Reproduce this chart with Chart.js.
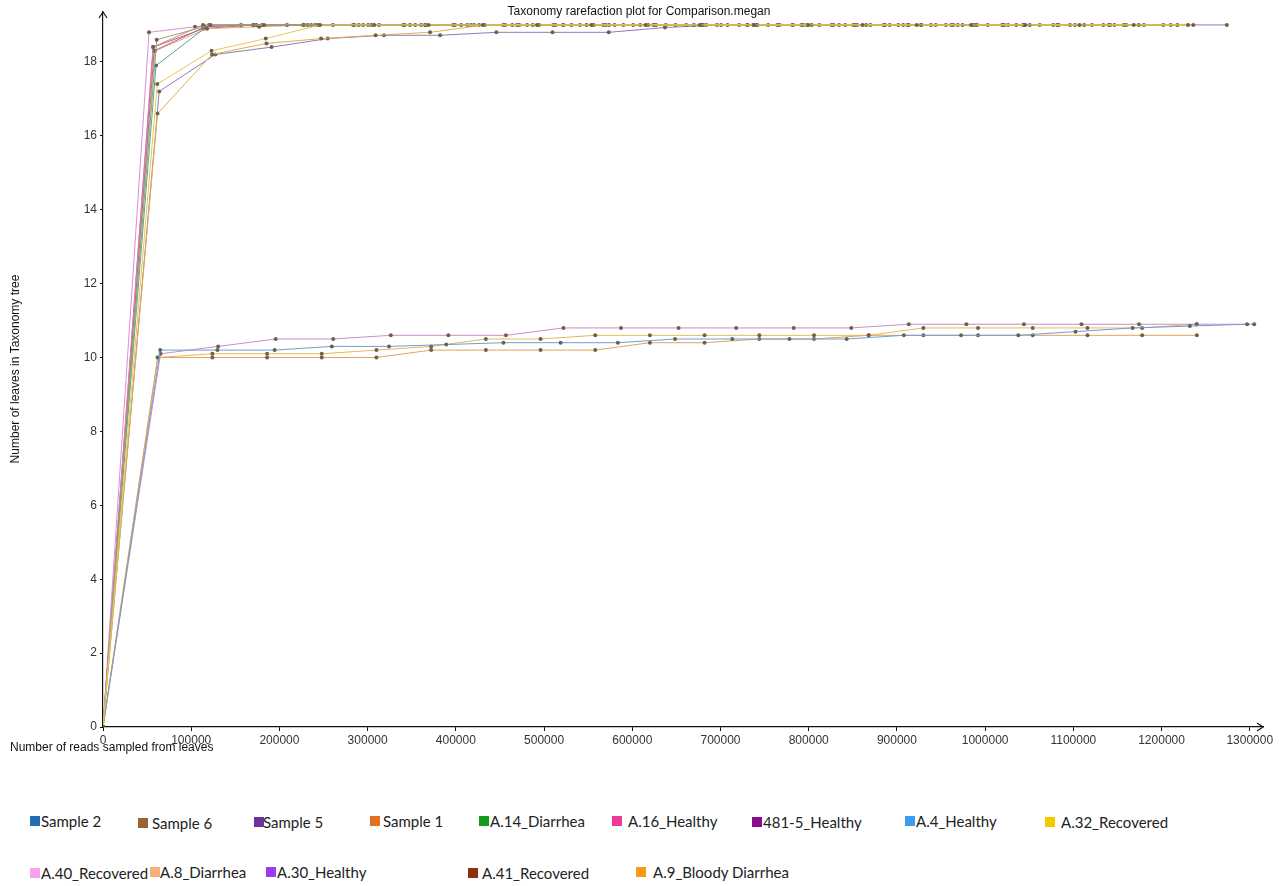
<!DOCTYPE html>
<html>
<head>
<meta charset="utf-8">
<script src="https://cdn.jsdelivr.net/npm/chart.js@4.4.1/dist/chart.umd.min.js"></script>
<style>
  body { margin: 0; background: #fff; width: 1280px; height: 886px; overflow: hidden; position: relative; }
  #wrap { position: absolute; left: 0; top: 0; width: 1280px; height: 790px; }
  .key { position: absolute; font-family: Lato, "Open Sans", sans-serif; font-size: 15px; color: #222; white-space: nowrap; line-height: 18px; }
  .key i { position: absolute; width: 10px; height: 10px; top: 4px; }
</style>
</head>
<body>
<div id="wrap"><canvas id="myChart"></canvas></div>
<div id="legend"></div>
<script>
const titleText = 'Taxonomy rarefaction plot for Comparison.megan';
const xTitle = 'Number of reads sampled from leaves';
const yTitle = 'Number of leaves in Taxonomy tree';

const xTickValues = [0, 100000, 200000, 300000, 400000, 500000, 600000, 700000, 800000, 900000, 1000000, 1100000, 1200000, 1300000];
const yTickValues = [0, 2, 4, 6, 8, 10, 12, 14, 16, 18];

const seriesNames = ['Sample 2', 'Sample 6', 'Sample 5', 'Sample 1', 'A.14_Diarrhea', 'A.16_Healthy', '481-5_Healthy',
    'A.4_Healthy', 'A.32_Recovered', 'A.40_Recovered', 'A.8_Diarrhea', 'A.30_Healthy', 'A.41_Recovered', 'A.9_Bloody Diarrhea'];
const legendColors = ['#1f6fb6', '#9a6336', '#7030a0', '#e2701f', '#169a1a', '#f0389a', '#8c0a8c',
    '#3c9cf0', '#f5c800', '#f5a3ee', '#f7b07c', '#9a3cf0', '#8a3210', '#f59a12'];
const lineColors = ['#6c9fcf', '#e0a45c', '#c78fc6', '#e6b85a', '#80b060', '#e07aa8', '#a070a0',
    '#5f9f9f', '#e8c84a', '#d88fd8', '#e8a878', '#8c7cb8', '#c86060', '#e8ac4c'];

// reads sampled (x) and leaves (y) for each sample
const sample2Reads = [0, 64850, 129700, 194550, 259400, 324250, 389100, 453950, 518800, 583650, 648500, 713350, 778200, 843050, 907900, 972750, 1037600, 1102450, 1167300, 1232150, 1297000];
const sample2Leaves = [0, 10.2, 10.2, 10.2, 10.3, 10.3, 10.35, 10.4, 10.4, 10.4, 10.5, 10.5, 10.5, 10.5, 10.6, 10.6, 10.6, 10.7, 10.8, 10.85, 10.9];
const sample6Reads = [0, 62000, 124000, 186000, 248000, 310000, 372000, 434000, 496000, 558000, 620000, 682000, 744000, 806000, 868000, 930000, 992000, 1054000, 1116000, 1178000, 1240000];
const sample6Leaves = [0, 10.0, 10.0, 10.0, 10.0, 10.0, 10.2, 10.2, 10.2, 10.2, 10.4, 10.4, 10.5, 10.5, 10.6, 10.6, 10.6, 10.6, 10.6, 10.6, 10.6];
const sample5Reads = [0, 65250, 130500, 195750, 261000, 326250, 391500, 456750, 522000, 587250, 652500, 717750, 783000, 848250, 913500, 978750, 1044000, 1109250, 1174500, 1239750, 1305000];
const sample5Leaves = [0, 10.1, 10.3, 10.5, 10.5, 10.6, 10.6, 10.6, 10.8, 10.8, 10.8, 10.8, 10.8, 10.8, 10.9, 10.9, 10.9, 10.9, 10.9, 10.9, 10.9];
const sample1Reads = [0, 62000, 124000, 186000, 248000, 310000, 372000, 434000, 496000, 558000, 620000, 682000, 744000, 806000, 868000, 930000, 992000, 1054000, 1116000, 1178000, 1240000];
const sample1Leaves = [0, 10.0, 10.1, 10.1, 10.1, 10.2, 10.3, 10.5, 10.5, 10.6, 10.6, 10.6, 10.6, 10.6, 10.6, 10.8, 10.8, 10.8, 10.8, 10.8, 10.9];
const a14Reads = [0, 60900, 121800, 182700, 243600, 304500, 365400, 426300, 487200, 548100, 609000, 669900, 730800, 791700, 852600, 913500, 974400, 1035300, 1096200, 1157100, 1218000];
const a14Leaves = [0, 18.6, 19, 19, 19, 19, 19, 19, 19, 19, 19, 19, 19, 19, 19, 19, 19, 19, 19, 19, 19];
const a16Reads = [0, 56700, 113400, 170100, 226800, 283500, 340200, 396900, 453600, 510300, 567000, 623700, 680400, 737100, 793800, 850500, 907200, 963900, 1020600, 1077300, 1134000];
const a16Leaves = [0, 18.4, 19, 19, 19, 19, 19, 19, 19, 19, 19, 19, 19, 19, 19, 19, 19, 19, 19, 19, 19];
const h4815Reads = [0, 58000, 116000, 174000, 232000, 290000, 348000, 406000, 464000, 522000, 580000, 638000, 696000, 754000, 812000, 870000, 928000, 986000, 1044000, 1102000, 1160000];
const h4815Leaves = [0, 18.3, 18.95, 19, 19, 19, 19, 19, 19, 19, 19, 19, 19, 19, 19, 19, 19, 19, 19, 19, 19];
const a4Reads = [0, 60100, 120200, 180300, 240400, 300500, 360600, 420700, 480800, 540900, 601000, 661100, 721200, 781300, 841400, 901500, 961600, 1021700, 1081800, 1141900, 1202000];
const a4Leaves = [0, 17.9, 19, 19, 19, 19, 19, 19, 19, 19, 19, 19, 19, 19, 19, 19, 19, 19, 19, 19, 19];
const a32Reads = [0, 61500, 123000, 184500, 246000, 307500, 369000, 430500, 492000, 553500, 615000, 676500, 738000, 799500, 861000, 922500, 984000, 1045500, 1107000, 1168500, 1230000];
const a32Leaves = [0, 17.4, 18.3, 18.63, 19, 19, 19, 19, 19, 19, 19, 19, 19, 19, 19, 19, 19, 19, 19, 19, 19];
const a40Reads = [0, 52150, 104300, 156450, 208600, 260750, 312900, 365050, 417200, 469350, 521500, 573650, 625800, 677950, 730100, 782250, 834400, 886550, 938700, 990850, 1043000];
const a40Leaves = [0, 18.8, 18.95, 19, 19, 19, 19, 19, 19, 19, 19, 19, 19, 19, 19, 19, 19, 19, 19, 19, 19];
const a8Reads = [0, 59000, 118000, 177000, 236000, 295000, 354000, 413000, 472000, 531000, 590000, 649000, 708000, 767000, 826000, 885000, 944000, 1003000, 1062000, 1121000, 1180000];
const a8Leaves = [0, 18.3, 18.9, 18.95, 19, 19, 19, 19, 19, 19, 19, 19, 19, 19, 19, 19, 19, 19, 19, 19, 19];
const a30Reads = [0, 63700, 127400, 191100, 254800, 318500, 382200, 445900, 509600, 573300, 637000, 700700, 764400, 828100, 891800, 955500, 1019200, 1082900, 1146600, 1210300, 1274000];
const a30Leaves = [0, 17.2, 18.2, 18.4, 18.63, 18.72, 18.72, 18.8, 18.8, 18.8, 18.93, 19, 19, 19, 19, 19, 19, 19, 19, 19, 19];
const a41Reads = [0, 57000, 114000, 171000, 228000, 285000, 342000, 399000, 456000, 513000, 570000, 627000, 684000, 741000, 798000, 855000, 912000, 969000, 1026000, 1083000, 1140000];
const a41Leaves = [0, 18.4, 18.9, 19, 19, 19, 19, 19, 19, 19, 19, 19, 19, 19, 19, 19, 19, 19, 19, 19, 19];
const a9Reads = [0, 61800, 123600, 185400, 247200, 309000, 370800, 432600, 494400, 556200, 618000, 679800, 741600, 803400, 865200, 927000, 988800, 1050600, 1112400, 1174200, 1236000];
const a9Leaves = [0, 16.6, 18.2, 18.5, 18.63, 18.72, 18.8, 19, 19, 19, 19, 19, 19, 19, 19, 19, 19, 19, 19, 19, 19];

const allReads = [sample2Reads, sample6Reads, sample5Reads, sample1Reads, a14Reads, a16Reads, h4815Reads,
    a4Reads, a32Reads, a40Reads, a8Reads, a30Reads, a41Reads, a9Reads];
const allLeaves = [sample2Leaves, sample6Leaves, sample5Leaves, sample1Leaves, a14Leaves, a16Leaves, h4815Leaves,
    a4Leaves, a32Leaves, a40Leaves, a8Leaves, a30Leaves, a41Leaves, a9Leaves];

// legend layout: square left, text left, row top
const legendSpots = [[30, 41, 812], [138, 152, 814], [254, 263, 813], [370, 383, 812], [479, 490, 812],
    [612, 628, 812], [752, 763, 813], [905, 916, 812], [1045, 1061, 813],
    [30, 41, 864], [150, 160, 863], [266, 277, 863], [468, 482, 864], [636, 653, 863]];

function buildLegend() {
    const box = document.getElementById('legend');
    seriesNames.forEach((name, i) => {
        const [sx, tx, top] = legendSpots[i];
        const sq = document.createElement('div');
        sq.className = 'key';
        sq.style.left = sx + 'px';
        sq.style.top = top + 'px';
        sq.innerHTML = '<i style="left:0;background:' + legendColors[i] + '"></i>';
        box.appendChild(sq);
        const label = document.createElement('div');
        label.className = 'key';
        label.style.left = tx + 'px';
        label.style.top = top + 'px';
        label.textContent = name;
        box.appendChild(label);
    });
}

const decor = {
    id: 'decor',
    afterDraw(chart) {
        const { ctx, chartArea: a } = chart;
        ctx.save();
        ctx.strokeStyle = '#111';
        ctx.lineWidth = 1.2;
        ctx.beginPath();
        ctx.moveTo(a.left - 4, a.top + 6); ctx.lineTo(a.left, a.top); ctx.lineTo(a.left + 4, a.top + 6);
        ctx.stroke();
        ctx.beginPath();
        ctx.moveTo(a.right - 6, a.bottom - 4); ctx.lineTo(a.right, a.bottom); ctx.lineTo(a.right - 6, a.bottom + 4);
        ctx.stroke();
        ctx.fillStyle = '#111';
        ctx.font = '12px "Liberation Sans", Arial, sans-serif';
        ctx.textBaseline = 'middle';
        ctx.textAlign = 'center';
        ctx.fillText(titleText, 639, 12);
        ctx.textAlign = 'left';
        ctx.fillText(xTitle, 10, 748);
        ctx.translate(16, 369);
        ctx.rotate(-Math.PI / 2);
        ctx.textAlign = 'center';
        ctx.fillText(yTitle, 0, 0);
        ctx.restore();
    }
};

function main() {
    // orange/yellow curves sit on top of the flat 19 line
    const onTop = ['A.9_Bloody Diarrhea', 'A.32_Recovered'];
    const datasets = seriesNames.map((name, i) => ({
        label: name,
        data: allReads[i].map((x, j) => ({ x, y: allLeaves[i][j] })),
        borderColor: lineColors[i],
        backgroundColor: lineColors[i],
        borderWidth: 1,
        pointRadius: 2,
        pointBorderWidth: 0,
        pointBackgroundColor: '#6e604c',
        tension: 0,
        order: onTop.includes(name) ? 0 : 1
    }));

    const tickFont = { family: '"Liberation Sans", Arial, sans-serif', size: 12 };

    new Chart(document.getElementById('myChart'), {
        type: 'line',
        data: { datasets },
        plugins: [decor],
        options: {
            responsive: true,
            maintainAspectRatio: false,
            animation: false,
            layout: { padding: { top: 12, right: 17, left: 0, bottom: 0 } },
            plugins: { legend: { display: false }, tooltip: { enabled: false } },
            scales: {
                x: {
                    type: 'linear',
                    min: 0,
                    max: 1315000,
                    afterFit: (s) => { s.height = 63; },
                    afterBuildTicks: (s) => { s.ticks = xTickValues.map(v => ({ value: v })); },
                    border: { color: '#111', width: 1.2 },
                    grid: { drawOnChartArea: false, tickLength: 4, color: '#111' },
                    ticks: { padding: 2, color: '#333', font: tickFont, maxRotation: 0, autoSkip: false,
                        callback: (v) => String(v) }
                },
                y: {
                    min: 0,
                    max: 19.35,
                    afterFit: (s) => { s.width = 103; },
                    afterBuildTicks: (s) => { s.ticks = yTickValues.map(v => ({ value: v })); },
                    border: { color: '#111', width: 1.2 },
                    grid: { drawOnChartArea: false, tickLength: 3, color: '#111' },
                    ticks: { padding: 3, color: '#333', font: tickFont, callback: (v) => String(v) }
                }
            }
        }
    });
    buildLegend();
}

main();
</script>
</body>
</html>
